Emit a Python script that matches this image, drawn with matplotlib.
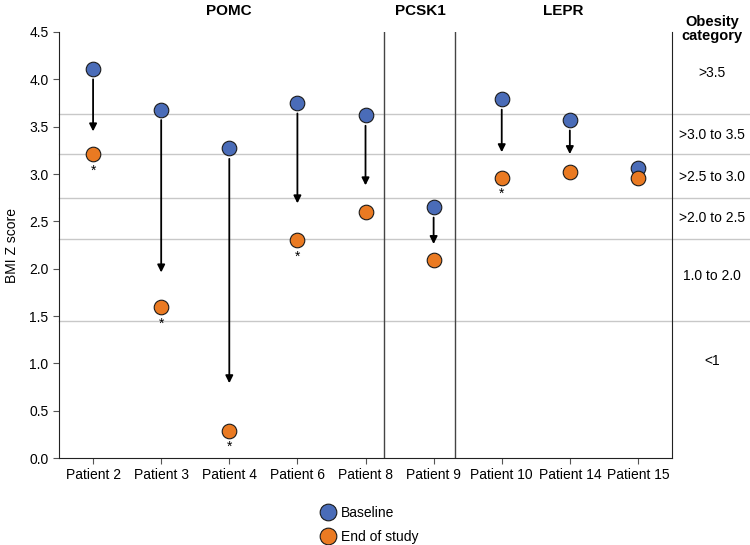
import matplotlib
matplotlib.use('Agg')
import matplotlib.pyplot as plt
from matplotlib.lines import Line2D

plt.rcParams['font.family'] = ['Liberation Sans', 'DejaVu Sans']

# Data
patients = ['Patient 2', 'Patient 3', 'Patient 4', 'Patient 6', 'Patient 8',
            'Patient 9', 'Patient 10', 'Patient 14', 'Patient 15']
baseline = [4.11, 3.68, 3.27, 3.75, 3.62, 2.65, 3.79, 3.57, 3.06]
end_of_study = [3.21, 1.59, 0.29, 2.30, 2.60, 2.09, 2.96, 3.02, 2.96]
arrow_tip = [3.45, 1.96, 0.79, 2.69, 2.88, 2.26, 3.23, 3.21, None]
significant = [True, True, True, True, False, False, True, False, False]

genes = ['POMC', 'PCSK1', 'LEPR']
gene_centers = [2.0, 4.8, 6.9]
gene_bounds = [4.27, 5.32]

category_lines = [3.63, 3.21, 2.75, 2.31, 1.45]
category_labels = ['>3.5', '>3.0 to 3.5', '>2.5 to 3.0', '>2.0 to 2.5', '1.0 to 2.0', '<1']
category_label_y = [4.07, 3.41, 2.97, 2.54, 1.92, 1.03]

blue = '#4a6cb8'
orange = '#ea7a22'

fig = plt.figure(figsize=(7.5, 5.45), dpi=100)
ax = fig.add_axes([0.0787, 0.1596, 0.8173, 0.7817])

x = list(range(len(patients)))

# Category grid lines extend past the right spine
for yv in category_lines:
    ax.axhline(yv, xmin=0, xmax=1.13, color='#c8c8c8', lw=1, clip_on=False, zorder=0)

for xb in gene_bounds:
    ax.axvline(xb, color='#444444', lw=1, zorder=1)

# Arrows from baseline to end of study
for xi, b, tip in zip(x, baseline, arrow_tip):
    if tip is None:
        continue
    ax.annotate('', xy=(xi, tip), xytext=(xi, b - 0.11),
                arrowprops=dict(arrowstyle='-|>', color='black', lw=1.3,
                                mutation_scale=11, shrinkA=0, shrinkB=0))

ax.plot(x, baseline, 'o', ms=10.5, color=blue, mec='#1a1a1a', mew=0.8, zorder=3)
ax.plot(x, end_of_study, 'o', ms=10.5, color=orange, mec='#1a1a1a', mew=0.8, zorder=4)

for xi, e, s in zip(x, end_of_study, significant):
    if s:
        ax.text(xi, e - 0.1, '*', ha='center', va='top', fontsize=10)

ax.set_xlim(-0.5, 8.5)
ax.set_ylim(0, 4.5)
ax.set_yticks([0, 0.5, 1.0, 1.5, 2.0, 2.5, 3.0, 3.5, 4.0, 4.5])
ax.set_yticklabels([f'{v:.1f}' for v in ax.get_yticks()])
ax.set_xticks(x)
ax.set_xticklabels(patients)
ax.tick_params(labelsize=10, color='#555555', length=4)
ax.set_ylabel('BMI Z score', fontsize=10)
ax.yaxis.set_label_coords(-0.066, 0.5)

ax.spines['top'].set_visible(False)
for side in ['left', 'bottom', 'right']:
    ax.spines[side].set_color('#222222')

for g, c in zip(genes, gene_centers):
    ax.text(c, 4.72, g, ha='center', va='center', fontsize=11, fontweight='bold')

ax.text(9.09, 4.53, 'Obesity\ncategory', ha='center', va='center',
        fontsize=10.5, fontweight='bold', clip_on=False, linespacing=1.05)
for lab, yl in zip(category_labels, category_label_y):
    ax.text(9.09, yl, lab, ha='center', va='center', fontsize=10, clip_on=False)

handles = [Line2D([], [], ls='', marker='o', ms=12, color=blue, mec='#1a1a1a', mew=0.8),
           Line2D([], [], ls='', marker='o', ms=12, color=orange, mec='#1a1a1a', mew=0.8)]
fig.legend(handles, ['Baseline', 'End of study'], loc='upper left',
           bbox_to_anchor=(0.41, 0.095), frameon=False, fontsize=10,
           handletextpad=0.3, labelspacing=0.75, handlelength=1.2)

fig.savefig('out.png', dpi=100)
